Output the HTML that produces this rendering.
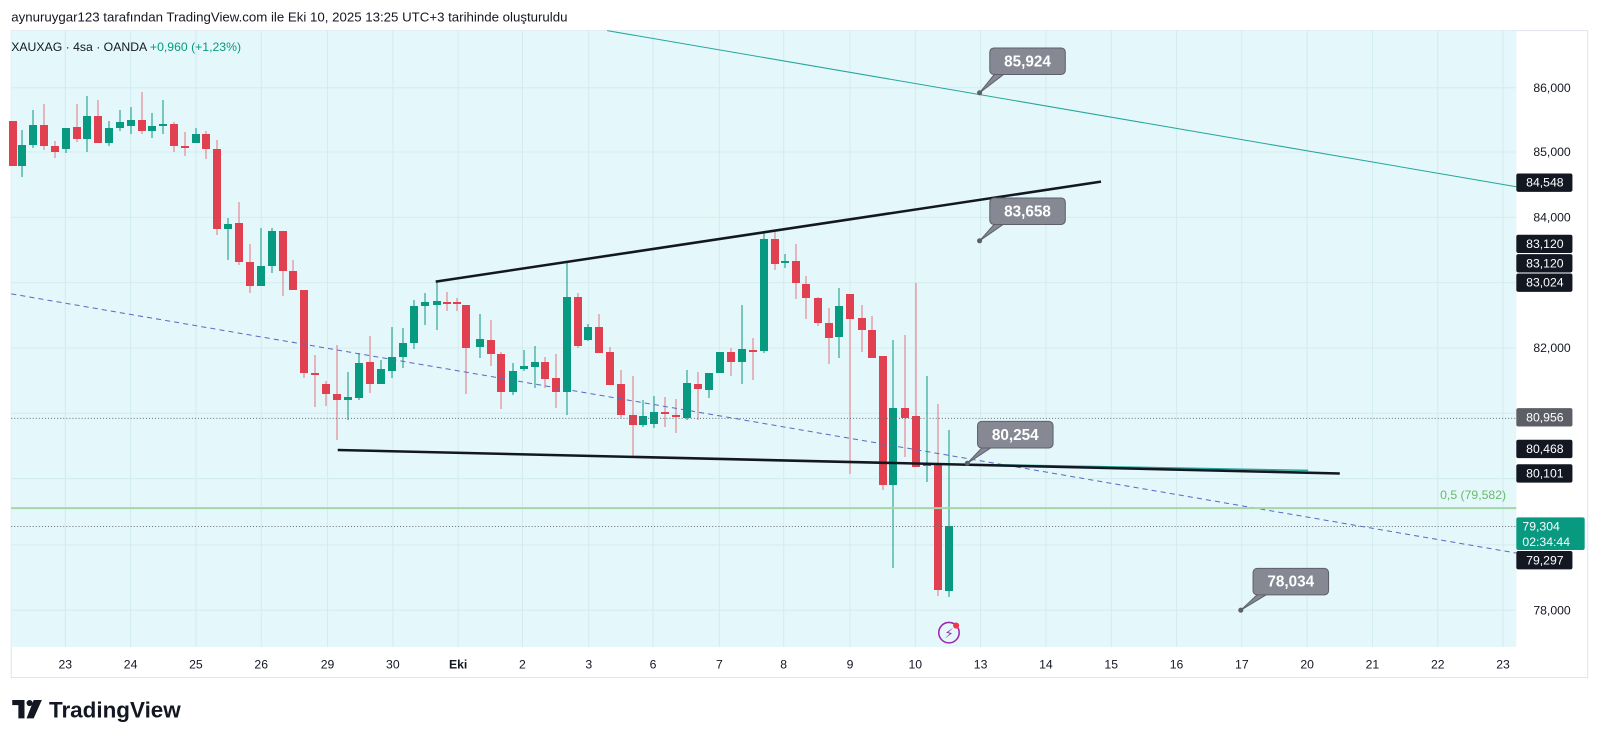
<!DOCTYPE html>
<html><head><meta charset="utf-8"><style>
body{margin:0;background:#fff;width:1600px;height:745px;overflow:hidden;font-family:"Liberation Sans","DejaVu Sans",sans-serif;}
svg text{font-family:"Liberation Sans","DejaVu Sans",sans-serif;}
</style></head><body>
<svg id="s" width="1600" height="745" xmlns="http://www.w3.org/2000/svg">
<rect x="0" y="0" width="1600" height="745" fill="#fff"/>
<g transform="scale(1.0204)">
<text x="11" y="21" font-size="13" fill="#131722">aynuruygar123 tarafından TradingView.com ile Eki 10, 2025 13:25 UTC+3 tarihinde oluşturuldu</text>
<rect x="11" y="30" width="1545" height="634" fill="#fff" stroke="#e0e3eb"/>
<rect x="11" y="30" width="1475" height="604" fill="#e4f7fa"/>
<g id="grid" stroke="#d3ecef" stroke-width="1"></g>
</g>
<g id="cd"></g>
<g transform="scale(1.0204)">
<line x1="595" y1="30" x2="1486" y2="183" stroke="#26a69a" stroke-width="1"/>
<line x1="11" y1="288" x2="1486" y2="542" stroke="#5b6bc0" stroke-width="1" stroke-dasharray="5,4"/>
<line x1="11" y1="410" x2="1486" y2="410" stroke="#6b7078" stroke-width="1" stroke-dasharray="1,2"/>
<line x1="11" y1="516" x2="1486" y2="516" stroke="#6b7078" stroke-width="1" stroke-dasharray="1,2"/>
<line x1="11" y1="498" x2="1486" y2="498" stroke="#a5d6a7" stroke-width="2"/>
<line x1="950" y1="455" x2="1282" y2="461" stroke="#26a69a" stroke-width="1.5"/>
<line x1="427" y1="276" x2="1079" y2="178" stroke="#131722" stroke-width="2.5"/>
<line x1="331" y1="441" x2="1313" y2="464" stroke="#131722" stroke-width="2.5"/>
<text x="1476" y="489" font-size="12" fill="#66bb6a" text-anchor="end">0,5 (79,582)</text>
<g id="co"></g>
<g id="ax"></g>
<text x="11" y="50" font-size="12" fill="#131722">XAUXAG · 4sa · OANDA <tspan fill="#089981">+0,960 (+1,23%)</tspan></text>
<circle cx="930" cy="620" r="10" fill="none" stroke="#9c27b0" stroke-width="1.5"/>
<text x="930" y="625" font-size="13" fill="#9c27b0" text-anchor="middle">⚡</text>
<circle cx="937" cy="613" r="3" fill="#f23645"/>
<g transform="translate(12,686)">
<rect x="0" y="0" width="12" height="5" fill="#131722"/><rect x="6" y="0" width="6" height="18" fill="#131722"/>
<circle cx="17" cy="3" r="3" fill="#131722"/><polygon points="21,0 29,0 21,18 14,18" fill="#131722"/>
<text x="36" y="17" font-size="22" font-weight="bold" fill="#131722">TradingView</text>
</g>
</g>
</svg>
<script>
var NS="http://www.w3.org/2000/svg";
function el(p,t,a,txt){var e=document.createElementNS(NS,t);for(var k in a)e.setAttribute(k,a[k]);if(txt!=null)e.textContent=txt;document.getElementById(p).appendChild(e);return e;}
var xs=[64,128,192,256,321,385,449,512,577,640,705,768,833,897,961,1025,1089,1153,1217,1281,1345,1409,1473];
var lb=["23","24","25","26","29","30","Eki","2","3","6","7","8","9","10","13","14","15","16","17","20","21","22","23"];
xs.forEach(function(x,i){el("grid","line",{x1:x,y1:30,x2:x,y2:634});
el("ax","text",{x:x,y:655,"font-size":12,"text-anchor":"middle",fill:"#131722","font-weight":i==6?"bold":"normal"},lb[i]);});
[86,149,213,277,341,405,469,534,598].forEach(function(y){el("grid","line",{x1:11,y1:y,x2:1486,y2:y});});
[["86,000",86],["85,000",149],["84,000",213],["82,000",341],["78,000",598]].forEach(function(a){el("ax","text",{x:1521,y:a[1]+4,"font-size":12,"text-anchor":"middle",fill:"#131722"},a[0]);});
[["84,548",179,"#131722"],["83,120",239,"#131722"],["83,120",258,"#131722"],["83,024",277,"#131722"],["80,956",409,"#5d5f66"],["80,468",440,"#131722"],["80,101",464,"#131722"],["79,297",549,"#131722"]].forEach(function(a){
el("ax","rect",{x:1486,y:a[1]-9,width:55,height:18,rx:2,fill:a[2]});
el("ax","text",{x:1514,y:a[1]+4,"font-size":12,"text-anchor":"middle",fill:"#fff"},a[0]);});
el("ax","rect",{x:1486,y:507,width:67,height:32,rx:2,fill:"#089981"});
el("ax","text",{x:1492,y:520,"font-size":12,fill:"#fff"},"79,304");
el("ax","text",{x:1492,y:535,"font-size":12,fill:"#fff"},"02:34:44");
[["85,924",970,47,960,91],["83,658",970,194,960,236],["80,254",958,413,948,454],["78,034",1228,557,1216,598]].forEach(function(a){
var bx=a[1],by=a[2];
el("co","polygon",{points:(bx+6)+","+(by+24)+" "+a[3]+","+a[4]+" "+(bx+16)+","+(by+24),fill:"#868993",stroke:"#5d606b"});
el("co","rect",{x:bx,y:by,width:74,height:26,rx:4,fill:"#868993",stroke:"#5d606b"});
el("co","circle",{cx:a[3],cy:a[4],r:2.5,fill:"#5d606b"});
el("co","text",{x:bx+37,y:by+18,"font-size":15,"font-weight":"bold","text-anchor":"middle",fill:"#fff"},a[0]);});
var C=[[13,'r',121,166,121,166],[22,'g',145,166,130,177],[33,'g',125,145,110,148],[44,'r',125,146,104,150],[55,'r',146,152,141,158],[66,'g',128,149,128,153],[77,'r',127,139,104,142],[87,'g',116,139,96,152],[98,'r',116,143,100,143],[109,'g',128,143,121,146],[120,'g',122,128,110,131],[131,'g',120,126,107,134],[142,'r',120,131,92,134],[152,'g',126,131,113,138],[163,'g',124,126,100,134],[174,'r',124,146,122,152],[185,'r',146,148,132,156],[196,'g',134,143,128,143],[206,'r',134,149,131,159],[217,'r',149,229,140,235],[228,'g',224,229,218,260],[239,'r',223,262,202,265],[250,'r',262,286,244,293],[261,'g',266,286,228,286],[272,'g',231,266,228,273],[283,'r',231,271,231,296],[293,'r',271,290,260,290],[304,'r',290,373,290,378],[315,'r',373,374,355,407],[326,'r',384,394,381,406],[337,'r',394,400,345,440],[348,'g',397,400,372,420],[359,'g',363,398,353,400],[370,'r',362,384,336,393],[381,'g',369,384,360,384],[392,'g',357,371,327,378],[403,'g',343,357,328,368],[414,'g',306,343,300,349],[425,'g',302,306,293,325],[437,'g',301,305,282,330],[447,'r',302,304,292,311],[457,'r',302,304,298,311],
[466,'r',305,348,305,394],[480,'g',339,347,314,358],[491,'r',340,354,320,366],[501,'r',354,392,352,409],[513,'g',371,392,363,395],[524,'g',366,369,350,371],[535,'g',362,367,346,388],[545,'r',362,379,357,388],[556,'r',378,392,354,408],[567,'g',297,392,263,415],[578,'r',297,346,293,348],[588,'g',327,340,324,341],[599,'r',327,353,314,353],[610,'r',352,385,347,385],[621,'r',384,415,370,418],[633,'r',415,425,376,456],[643,'g',416,425,400,427],[654,'g',412,424,396,428],[665,'r',412,414,397,427],[676,'r',415,417,399,433],[687,'g',383,418,370,420],[698,'r',384,389,372,420],[709,'g',373,390,373,398],[720,'g',352,373,352,373],[731,'r',352,362,348,376],[742,'g',349,362,305,384],[753,'r',350,352,338,380],[764,'g',239,351,233,353],[775,'r',239,264,232,270],[785,'g',261,262,254,268],[796,'r',261,283,244,299],[806,'r',284,298,276,319],[818,'r',298,323,297,326],[829,'r',323,338,308,364],[839,'g',306,337,288,358],[850,'r',294,319,294,474],[862,'r',318,330,305,352],[872,'r',330,358,316,358],[883,'r',356,485,356,490],[893,'g',408,485,340,568],[905,'r',408,418,335,457],[916,'r',416,467,283,467],[927,'g',464,466,376,482],[938,'r',465,590,404,596],[949,'g',526,591,430,597]];
C.forEach(function(c){var col=c[1]=='g'?'#089981':'#e0404f';var wc=c[1]=='g'?'#089981':'#e57380';
el("cd","line",{x1:c[0],y1:c[4],x2:c[0],y2:c[5],stroke:wc,"stroke-width":1});
el("cd","rect",{x:c[0]-4,y:c[2],width:8,height:Math.max(2,c[3]-c[2]),fill:col});});
</script>
</body></html>
